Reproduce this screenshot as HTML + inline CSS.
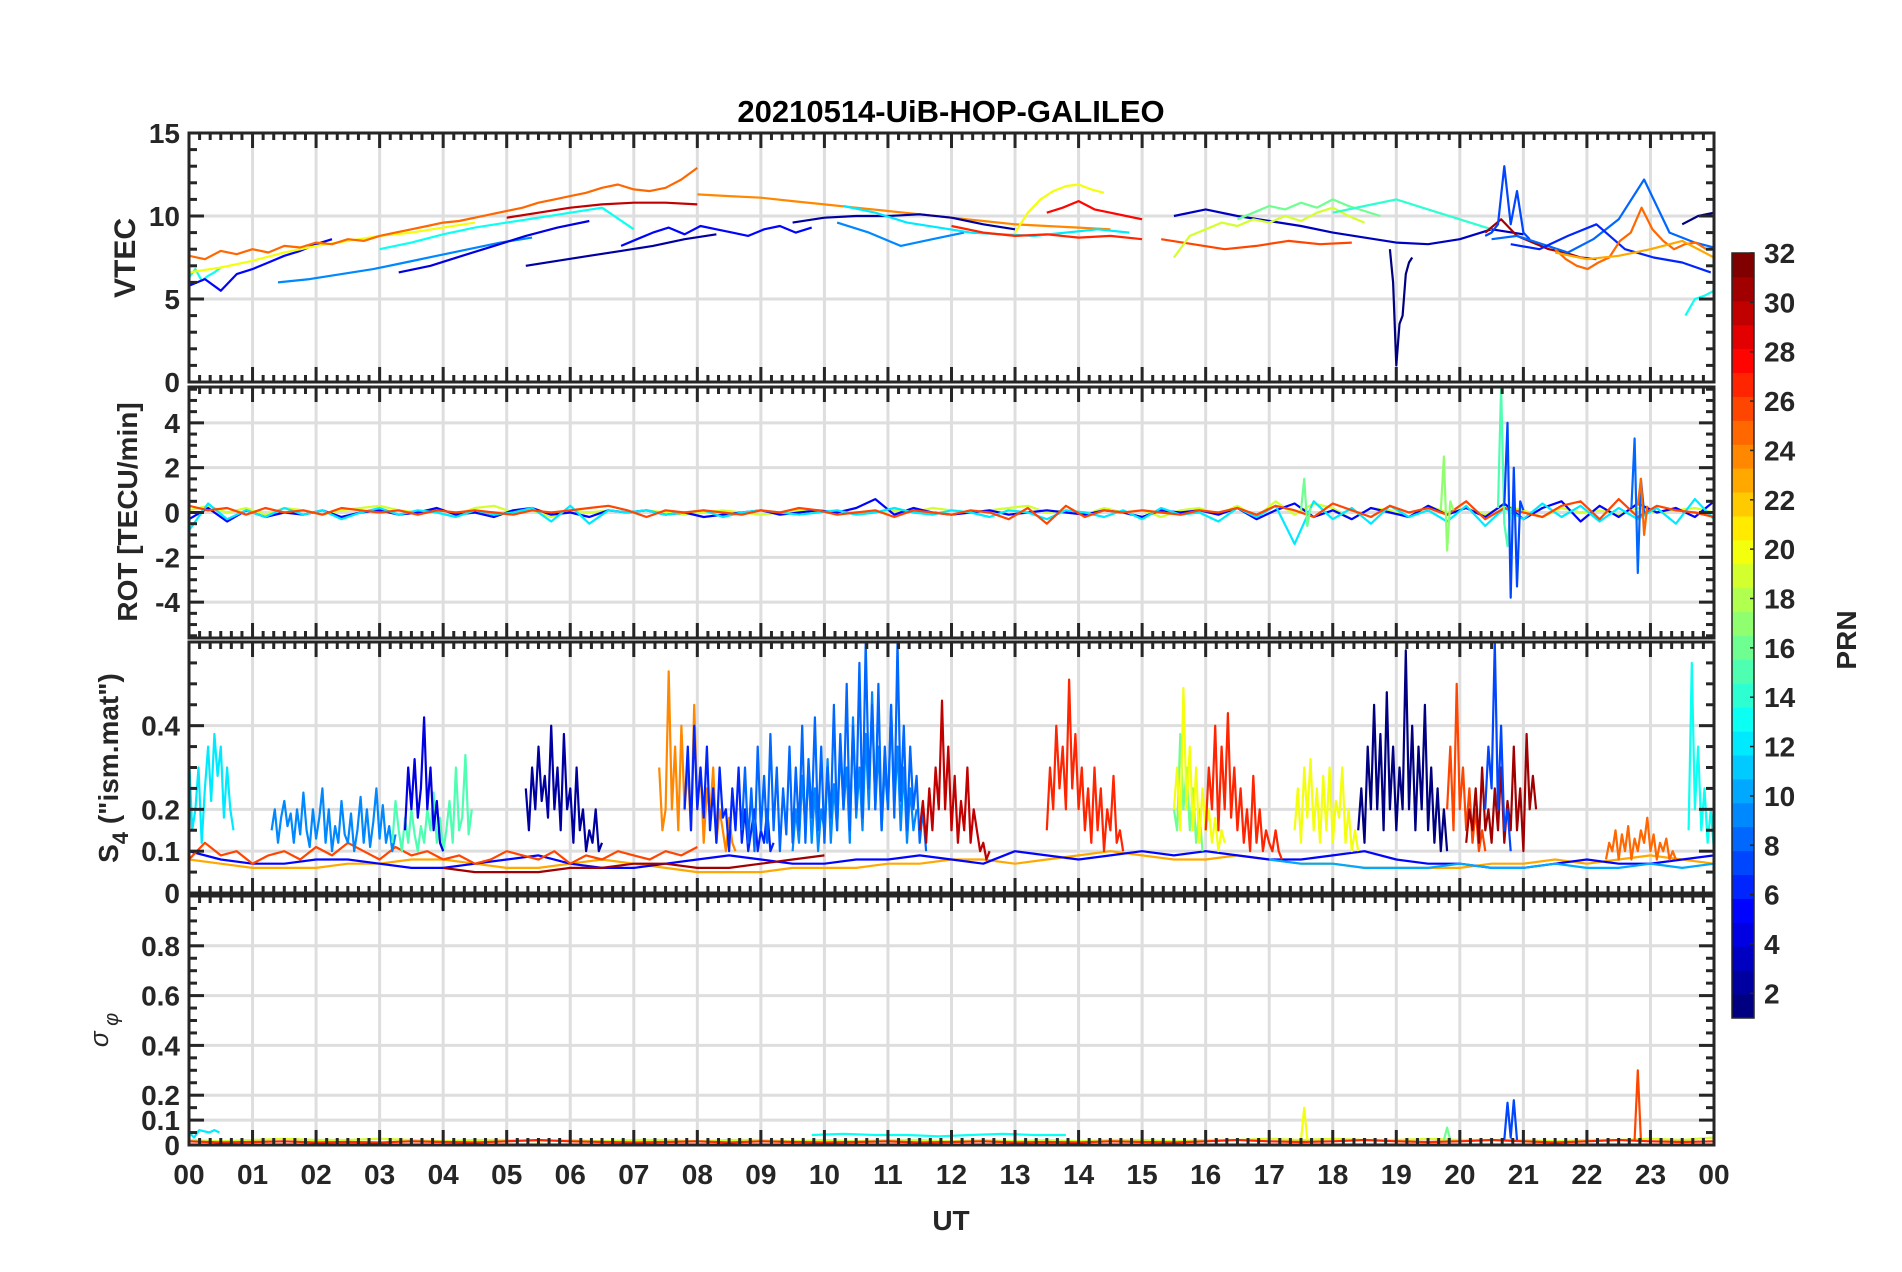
<!DOCTYPE html>
<html><head><meta charset="utf-8"><title>20210514-UiB-HOP-GALILEO</title>
<style>
html,body{margin:0;padding:0;background:#fff;}
svg{display:block;font-family:"Liberation Sans",Arial,sans-serif;}
.tk{font-size:28px;font-weight:bold;fill:#262626;}
</style></head>
<body>
<svg id="fig" width="1902" height="1272" viewBox="0 0 1902 1272" xmlns="http://www.w3.org/2000/svg">
<rect x="0" y="0" width="1902" height="1272" fill="#fff"/>
<text x="951" y="122" text-anchor="middle" font-size="31" font-weight="bold" fill="#000">20210514-UiB-HOP-GALILEO</text>
<text x="951" y="1230" text-anchor="middle" class="tk">UT</text>
<text transform="translate(135,258) rotate(-90)" text-anchor="middle" font-size="30" font-weight="bold" fill="#262626">VTEC</text>
<text transform="translate(137,512) rotate(-90)" text-anchor="middle" font-size="28" font-weight="bold" fill="#262626">ROT [TECU/min]</text>
<text transform="translate(118,768) rotate(-90)" text-anchor="middle" font-size="28" font-weight="bold" fill="#262626">S<tspan dy="10" font-size="22">4</tspan><tspan dy="-10"> ("ism.mat")</tspan></text>
<text transform="translate(108,1030) rotate(-90)" text-anchor="middle" font-size="26" font-style="italic" fill="#262626">σ<tspan dy="10" font-size="20"> φ</tspan></text>
<text transform="translate(1856,640) rotate(-90)" text-anchor="middle" font-size="28" font-weight="bold" fill="#262626">PRN</text>
<g id="layer"></g>
</svg>
<script>
// ---------- DATA ----------
const hourLabels = ["00","01","02","03","04","05","06","07","08","09","10","11","12","13","14","15","16","17","18","19","20","21","22","23","00"];
const vtecTicks = [0,5,10,15];
const rotTicks = [-4,-2,0,2,4];
const s4Ticks = [0,0.1,0.2,0.4];
const sigTicks = [0,0.1,0.2,0.4,0.6,0.8];
const cbTicks = [2,4,6,8,10,12,14,16,18,20,22,24,26,28,30,32];

// VTEC series: [prn, startHour, stepHour, values]
const vP25 = [7.6,7.4,7.9,7.7,8.0,7.8,8.2,8.1,8.4,8.3,8.6,8.5,8.8,9.0,9.2,9.4,9.6,9.7,9.9,10.1,10.3,10.5,10.8,11.0,11.2,11.4,11.7,11.9,11.6,11.5,11.7,12.2,12.9];
const vP24 = [11.3,11.2,11.1,10.9,10.7,10.5,10.3,10.1,9.9,9.7,9.5,9.4,9.3,9.2];
const vP27 = [9.4,9.0,8.8,8.9,8.7,8.8,8.6];
const vP28 = [10.2,10.5,10.9,10.4,10.2,10.0,9.8];
const vP30 = [9.9,10.2,10.5,10.7,10.8,10.8,10.7];
const vP20a = [6.6,6.9,7.3,7.8,8.2,8.5,8.8,9.0,9.3,9.6];
const vP20b = [9.0,10.2,11.0,11.5,11.8,11.9,11.6,11.4];
const vP19 = [7.5,8.8,9.2,9.6,9.4,9.8,9.6,10.0,9.7,10.2,10.5,10.0,9.6];
const vP16 = [9.8,10.2,10.6,10.4,10.8,10.5,11.0,10.6,10.3,10.0];
const vP13a = [6.3,6.8,6.1,6.4,6.6,6.9];
const vP13b = [8.0,8.4,8.9,9.3,9.6,9.9,10.2,10.5,9.2];
const vP12 = [10.6,10.2,9.6,9.3,9.0,8.9,8.8,9.0,9.2,9.0];
const vP14 = [10.2,10.6,11.0,10.4,9.8,9.2];
const vP13c = [4.0,5.0,5.2,5.5];
const vP5a = [5.8,6.2,5.5,6.5,6.8,7.2,7.6,7.9,8.3,8.6];
const vP5b = [8.2,8.6,9.0,9.3,8.9,9.4,9.2,9.0,8.8,9.2,9.4,9.0,9.3];
const vP9a = [6.0,6.2,6.5,6.8,7.2,7.6,8.0,8.4,8.7];
const vP9b = [9.6,9.0,8.2,8.6,9.0];
const vP8 = [8.6,8.8,8.3,7.8,8.6,9.8,12.2,9.0,8.4,8.0];
const vP6 = [8.3,8.0,8.8,9.5,8.0,7.5,7.2,6.6];
const vP2a = [7.0,7.3,7.6,7.9,8.2,8.6,8.9];
const vP2b = [9.6,9.9,10.0,10.0,10.1,9.9,9.5,9.2];
const vP3 = [10.0,10.4,10.0,9.7,9.4,9.0,8.7,8.4,8.3,8.6,9.2,8.9];
const vP1a = [8.0,6.0,1.0,3.5,4.0,6.5,7.2,7.5];
const vP1b = [9.5,10.0,10.2];
const vP4 = [6.6,7.0,7.6,8.2,8.8,9.3,9.7];
const vP25b = [8.0,7.4,7.0,6.8,7.2,7.5,8.5,9.0,10.5,9.2,8.5,8.0,8.3,8.4,8.0];
const vP23 = [7.8,7.4,7.6,8.0,8.5,7.5];
const vP31 = [9.0,9.8,8.8,8.4,8.0,7.8,7.5,7.4];
const vP26 = [8.6,8.3,8.0,8.2,8.5,8.3,8.4];
const vP7 = [8.8,9.0,9.5,13.0,9.5,11.5,9.0,8.6];
const vtecSeries = [
 [13,0,0.1,vP13a],[5,0,0.25,vP5a],[20,0,0.5,vP20a],[25,0,0.25,vP25],[9,1.4,0.5,vP9a],
 [4,3.3,0.5,vP4],[13,3,0.5,vP13b],[30,5,0.5,vP30],[2,5.3,0.5,vP2a],[5,6.8,0.25,vP5b],
 [24,8,0.5,vP24],[2,9.5,0.5,vP2b],[9,10.2,0.5,vP9b],[12,10.3,0.5,vP12],[27,12,0.5,vP27],
 [20,13,0.2,vP20b],[28,13.5,0.25,vP28],[26,15.3,0.5,vP26],[3,15.5,0.5,vP3],[19,15.5,0.25,vP19],
 [16,16.5,0.25,vP16],[14,18,0.5,vP14],[1,18.9,0.05,vP1a],[31,20.4,0.25,vP31],[7,20.4,0.1,vP7],
 [8,20.5,0.4,vP8],[6,20.8,0.45,vP6],[25,21.5,0.17,vP25b],[23,21.5,0.5,vP23],[1,23.5,0.25,vP1b],[13,23.55,0.15,vP13c]
];

// ROT series
const rA = [0.3,0.1,0.2,-0.1,0.2,0.0,0.1,-0.1,0.2,0.1,0.0,0.1,-0.1,0.1,0.0,0.1,0.0,-0.1,0.1,0.0,0.1,0.2,0.3,0.1,-0.2,0.1,0.0,0.1,0.0,-0.1,0.1,0.0,0.2,0.1,-0.1,0.0,0.1,-0.2,0.1,0.0,-0.1,0.1,0.0,-0.3,0.2,-0.5,0.3,-0.2,0.1,0.0,0.1,0.0,-0.1,0.1,0.0,0.2,-0.1,0.3,0.1,-0.2,0.4,0.1,-0.2,0.3,0.0,0.2,-0.1,0.5,-0.3,0.2,0.0,-0.2,0.3,0.5,-0.3,0.6,-0.2,0.3,0.1,0.0,-0.2];
const rB = [-0.3,0.2,-0.4,0.1,-0.2,0.0,-0.1,0.1,-0.2,0.0,0.1,-0.1,0.0,0.2,-0.1,0.0,-0.2,0.1,0.2,-0.1,0.0,-0.2,0.1,0.0,0.1,-0.1,0.0,-0.2,-0.1,0.0,0.1,-0.1,0.0,0.1,0.0,0.2,0.6,-0.1,0.2,0.0,-0.1,0.0,0.1,-0.1,0.0,0.1,0.0,-0.1,0.1,0.0,-0.2,0.1,0.0,0.1,-0.1,0.2,-0.3,0.1,0.4,-0.2,0.1,-0.3,0.2,0.0,-0.2,0.3,-0.1,0.2,-0.2,0.4,-0.3,0.2,0.5,-0.4,0.3,-0.2,0.4,0.0,0.2,-0.2,0.5];
const rC = [0.1,0.3,0.0,0.2,-0.1,0.2,0.1,-0.1,0.1,0.2,0.3,0.1,0.0,0.2,-0.1,0.2,0.3,0.0,0.1,-0.2,0.1,0.0,0.1,0.0,0.1,0.0,-0.1,0.0,0.1,0.0,-0.1,0.0,0.1,0.0,0.1,-0.1,0.0,0.1,0.0,0.2,0.1,0.0,0.1,0.2,0.3,0.0,0.1,-0.1,0.2,0.0,0.1,-0.2,0.1,0.2,-0.1,0.3,-0.2,0.5,-0.1,0.4,0.2,-0.3,0.2,0.1,-0.2,0.3,0.0,0.2,-0.1,0.3,0.1,-0.2,0.2,0.0,0.1,-0.1,0.2,0.0,0.1,0.2,0.0];
const rD = [-0.8,0.4,-0.3,0.1,-0.2,0.2,-0.1,0.1,-0.3,0.0,0.2,-0.1,0.1,0.0,-0.2,0.1,-0.1,0.0,0.2,-0.4,0.3,-0.5,0.1,0.0,0.1,-0.1,0.0,0.1,-0.2,0.0,0.1,0.0,-0.1,0.0,0.1,-0.1,0.0,0.2,0.0,-0.1,0.1,0.0,-0.2,0.1,0.0,-0.3,0.1,0.0,-0.2,0.1,-0.3,0.2,-0.1,0.0,-0.4,0.2,-0.2,0.3,-1.4,0.5,-0.3,0.2,-0.5,0.3,-0.2,0.1,-0.4,0.3,-0.6,0.2,-0.3,0.4,-0.2,0.3,-0.4,0.2,-0.3,0.2,-0.5,0.6,-0.3];
const rG1 = [0.1,2.5,-1.7,0.5,0.1];
const rG2 = [0.2,5.6,-0.5,-1.5,0.2];
const rG3 = [0.1,1.5,-0.6,0.2];
const rB7 = [0.3,4.0,-3.8,2.0,-3.3,0.5,0.1];
const rB8 = [0.2,3.3,-2.7,1.5,0.0];
const rO25 = [0.3,1.5,-1.0,0.3];
const rotSeries = [[19,0,0.3,rC],[5,0,0.3,rB],[12,0,0.3,rD],[26,0,0.3,rA],[17,19.7,0.05,rG1],[15,20.6,0.05,rG2],[16,17.5,0.05,rG3],[7,20.7,0.05,rB7],[8,22.7,0.05,rB8],[25,22.8,0.05,rO25]];

// S4 series
const sBaseOr = [0.08,0.07,0.06,0.06,0.06,0.07,0.07,0.08,0.08,0.07,0.06,0.06,0.07,0.08,0.07,0.06,0.05,0.05,0.05,0.06,0.06,0.06,0.07,0.07,0.08,0.08,0.07,0.08,0.09,0.1,0.09,0.08,0.08,0.09,0.08,0.07,0.07,0.06,0.06,0.06,0.06,0.07,0.07,0.08,0.07,0.08,0.09,0.08,0.07];
const sBaseB = [0.1,0.08,0.07,0.07,0.08,0.08,0.07,0.06,0.06,0.07,0.08,0.09,0.07,0.06,0.06,0.07,0.08,0.09,0.08,0.07,0.07,0.08,0.08,0.09,0.08,0.07,0.1,0.09,0.08,0.09,0.1,0.09,0.1,0.09,0.08,0.08,0.09,0.1,0.08,0.07,0.07,0.06,0.06,0.07,0.08,0.07,0.07,0.08,0.09];
const sBaseR = [0.08,0.12,0.09,0.1,0.07,0.09,0.1,0.08,0.11,0.09,0.12,0.1,0.08,0.11,0.09,0.1,0.08,0.09,0.07,0.08,0.1,0.09,0.08,0.1,0.07,0.09,0.08,0.1,0.09,0.08,0.1,0.09,0.11];
const sBaseLb = [0.08,0.07,0.07,0.06,0.06,0.06,0.07,0.06,0.06,0.07,0.06,0.06,0.07,0.06,0.07];
const sBaseDr = [0.06,0.05,0.05,0.05,0.06,0.06,0.07,0.07,0.06,0.06,0.07,0.08,0.09];
const sCy0 = [0.33,0.15,0.2,0.3,0.12,0.25,0.35,0.22,0.38,0.28,0.35,0.18,0.3,0.2,0.15];
const sLb1 = [0.15,0.2,0.12,0.18,0.22,0.16,0.19,0.12,0.2,0.14,0.24,0.15,0.11,0.2,0.13,0.18,0.25,0.12,0.2,0.1,0.16,0.12,0.22,0.14,0.12,0.19,0.1,0.15,0.23,0.12,0.2,0.11,0.17,0.25,0.13,0.21,0.12,0.16,0.1,0.14];
const sGr = [0.12,0.22,0.15,0.1,0.18,0.12,0.2,0.14,0.1,0.16,0.12,0.2,0.15,0.24,0.12,0.18,0.1,0.15,0.22,0.12,0.3,0.15,0.18,0.33,0.14,0.2];
const sB4 = [0.15,0.3,0.2,0.32,0.18,0.25,0.42,0.2,0.3,0.15,0.22,0.12,0.1];
const sDb = [0.25,0.15,0.3,0.2,0.35,0.22,0.28,0.18,0.4,0.2,0.3,0.15,0.38,0.2,0.25,0.12,0.3,0.15,0.2,0.1,0.15,0.12,0.2,0.1,0.12];
const sOr = [0.3,0.15,0.2,0.53,0.2,0.35,0.15,0.4,0.2,0.3,0.15,0.45,0.2,0.3,0.12,0.25,0.18,0.3,0.12,0.2,0.15,0.1,0.18,0.12,0.1];
const sB6 = [0.2,0.35,0.15,0.4,0.2,0.3,0.18,0.35,0.15,0.25,0.12,0.3,0.18,0.2,0.1,0.25,0.15,0.3,0.12,0.2,0.1,0.15,0.2,0.1,0.15,0.12,0.2,0.1,0.12];
const sLb8 = [0.15,0.3,0.12,0.25,0.1,0.35,0.15,0.28,0.12,0.38,0.15,0.3,0.1,0.25,0.14,0.35,0.12,0.3,0.15,0.4,0.12,0.32,0.18,0.42,0.15,0.35,0.12,0.3,0.18,0.45,0.15,0.38,0.2,0.5,0.15,0.4,0.2,0.55,0.18,0.6,0.25,0.45,0.2,0.5,0.15,0.35,0.2,0.45,0.18,0.6,0.22,0.4,0.15,0.35,0.2,0.28,0.12,0.2,0.1];
const sLb9 = [0.1,0.2,0.12,0.28,0.15,0.3,0.12,0.25,0.1,0.2,0.15,0.32,0.12,0.26,0.15,0.35,0.2,0.3,0.12,0.42,0.18,0.3,0.15,0.38,0.2,0.48,0.2,0.35,0.15,0.3,0.2,0.45,0.2,0.35,0.15,0.3,0.12,0.25,0.15,0.2];
const sDr = [0.15,0.22,0.12,0.25,0.15,0.3,0.2,0.46,0.2,0.35,0.15,0.28,0.12,0.22,0.15,0.3,0.12,0.2,0.15,0.1,0.12,0.08,0.1];
const sRed = [0.15,0.3,0.2,0.4,0.25,0.35,0.2,0.51,0.25,0.38,0.2,0.3,0.15,0.25,0.12,0.3,0.15,0.25,0.1,0.2,0.15,0.28,0.12,0.15,0.1];
const sYel = [0.2,0.3,0.15,0.49,0.2,0.35,0.15,0.3,0.12,0.25,0.15,0.2,0.12,0.18,0.1,0.15,0.12];
const sGr16 = [0.2,0.15,0.38,0.2,0.3,0.15,0.25,0.12,0.2,0.1];
const sRed26 = [0.15,0.3,0.2,0.4,0.15,0.35,0.2,0.43,0.18,0.3,0.15,0.25,0.12,0.2,0.1,0.28,0.12,0.2,0.1,0.15,0.12,0.1,0.15,0.1,0.08];
const sYel2 = [0.15,0.25,0.12,0.3,0.18,0.32,0.15,0.25,0.12,0.28,0.15,0.3,0.12,0.22,0.18,0.3,0.12,0.2,0.1,0.15,0.1];
const sDb1 = [0.15,0.25,0.12,0.35,0.2,0.45,0.2,0.38,0.15,0.48,0.2,0.35,0.15,0.3,0.2,0.58,0.2,0.4,0.15,0.35,0.2,0.45,0.15,0.3,0.12,0.25,0.1,0.2,0.1];
const sRed2 = [0.2,0.35,0.15,0.5,0.2,0.3,0.15,0.25,0.12,0.2,0.1,0.15,0.1];
const sB7 = [0.2,0.35,0.25,0.6,0.2,0.4,0.15,0.2,0.1];
const sDr2 = [0.12,0.2,0.15,0.25,0.12,0.3,0.15,0.2,0.12,0.25,0.15,0.3,0.12,0.22,0.15,0.35,0.15,0.25,0.1,0.38,0.2,0.28,0.2];
const sOr2 = [0.08,0.12,0.1,0.15,0.08,0.14,0.1,0.16,0.08,0.13,0.1,0.15,0.12,0.18,0.1,0.14,0.08,0.12,0.1,0.13,0.08,0.1,0.08];
const sCy2 = [0.15,0.55,0.2,0.35,0.15,0.25,0.12,0.2,0.1];
const s4Series = [
 [23,0,0.5,sBaseOr],[5,0,0.5,sBaseB],[26,0,0.25,sBaseR],[10,17,0.5,sBaseLb],[31,4,0.5,sBaseDr],
 [12,0,0.05,sCy0],[9,1.3,0.05,sLb1],[15,3.2,0.05,sGr],[4,3.4,0.05,sB4],[2,5.3,0.05,sDb],
 [24,7.4,0.05,sOr],[6,7.8,0.05,sB6],[9,9.5,0.05,sLb9],[8,8.7,0.05,sLb8],[30,11.5,0.05,sDr],
 [27,13.5,0.05,sRed],[16,15.5,0.05,sGr16],[20,15.5,0.05,sYel],[27,16,0.05,sRed26],[20,17.4,0.05,sYel2],
 [1,18.4,0.05,sDb1],[26,19.8,0.05,sRed2],[31,20.1,0.05,sDr2],[7,20.4,0.05,sB7],[25,22.3,0.05,sOr2],[13,23.6,0.05,sCy2]
];

// sigma-phi series
const gBase = [0.015,0.01,0.012,0.015,0.01,0.012,0.01,0.015,0.012,0.01,0.015,0.02,0.015,0.012,0.01,0.012,0.015,0.01,0.015,0.012,0.01,0.012,0.015,0.01,0.012,0.015,0.01,0.012,0.01,0.015,0.012,0.01,0.015,0.02,0.015,0.012,0.015,0.02,0.015,0.012,0.015,0.02,0.015,0.01,0.015,0.02,0.015,0.012,0.015];
const gBase2 = [0.02,0.015,0.02,0.025,0.02,0.02,0.025,0.02,0.015,0.02,0.02,0.015,0.02,0.015,0.02,0.02,0.015,0.02,0.02,0.015,0.02,0.015,0.02,0.02,0.015,0.02,0.015,0.02,0.015,0.02,0.02,0.015,0.02,0.02,0.025,0.02,0.025,0.02,0.02,0.025,0.02,0.02,0.02,0.015,0.02,0.02,0.025,0.02,0.03];
const gCy = [0.05,0.03,0.06,0.055,0.05,0.06,0.05];
const gCy2 = [0.04,0.045,0.04,0.04,0.035,0.04,0.045,0.04,0.04];
const gY = [0.02,0.15,0.02];
const gB7 = [0.02,0.17,0.03,0.18,0.02];
const gR = [0.02,0.3,0.02];
const gG = [0.02,0.07,0.02];
const sigSeries = [[19,0,0.5,gBase2],[27,0,0.5,gBase],[12,0,0.08,gCy],[13,9.8,0.5,gCy2],[20,17.5,0.05,gY],[16,19.75,0.05,gG],[7,20.7,0.05,gB7],[26,22.75,0.05,gR]];

// ---------- RENDER ----------
const NS = "http://www.w3.org/2000/svg";
const X0 = 189, X1 = 1714;
const panels = [
 {name:"vtec", top:133, bot:382, min:0, max:15, ticks:vtecTicks, minor:1, series:vtecSeries},
 {name:"rot", top:387, bot:638, min:-5.6, max:5.6, ticks:rotTicks, minor:0.5, series:rotSeries},
 {name:"s4", top:642, bot:893, min:0, max:0.6, ticks:s4Ticks, minor:0.05, series:s4Series},
 {name:"sigma", top:896, bot:1145, min:0, max:1, ticks:sigTicks, minor:0.05, series:sigSeries}
];
const layer = document.getElementById("layer");
function xs(h){ return X0 + (X1 - X0) * h / 24; }
function jet(prn){
  const t = (prn - 1) / 31;
  const c = v => Math.round(255 * Math.max(0, Math.min(1, v)));
  return "rgb(" + c(1.5 - Math.abs(4*t - 3)) + "," + c(1.5 - Math.abs(4*t - 2)) + "," + c(1.5 - Math.abs(4*t - 1)) + ")";
}
function mk(tag, attrs, parent){
  const e = document.createElementNS(NS, tag);
  for (const k in attrs) e.setAttribute(k, attrs[k]);
  (parent || layer).appendChild(e);
  return e;
}
const defs = mk("defs", {});
panels.forEach((p, pi) => {
  const ys = v => p.bot - (p.bot - p.top) * (v - p.min) / (p.max - p.min);
  const g = mk("g", {});
  
  
  const cp = mk("clipPath", {id: "clip" + pi}, defs);
  mk("rect", {x: X0, y: p.top, width: X1 - X0, height: p.bot - p.top}, cp);
  for (let h = 1; h < 24; h++) {
    const l = mk("line", {x1: xs(h), x2: xs(h), y1: p.top, y2: p.bot, stroke: "#dedede", "stroke-width": 3}, g);
    
    
  }
  p.ticks.forEach(v => {
    const l = mk("line", {x1: X0, x2: X1, y1: ys(v), y2: ys(v), stroke: "#dedede", "stroke-width": 3}, g);
    
    
  });
  const sg = mk("g", {"clip-path": "url(#clip" + pi + ")"}, g);
  p.series.forEach(s => {
    const [prn, t0, dt, vals] = s;
    const pts = vals.map((v, i) => xs(t0 + i * dt).toFixed(1) + "," + ys(v).toFixed(1)).join(" ");
    const pl = mk("polyline", {points: pts, fill: "none", stroke: jet(prn), "stroke-width": 2.2, "stroke-linejoin": "round"}, sg);
    
    
  });
  for (let m = 0; m <= 24 * 6; m++) {
    const x = xs(m / 6), major = m % 6 === 0, L = major ? 15 : 7;
    mk("line", {x1: x, x2: x, y1: p.top, y2: p.top + L, stroke: "#262626", "stroke-width": 3}, g);
    mk("line", {x1: x, x2: x, y1: p.bot, y2: p.bot - L, stroke: "#262626", "stroke-width": 3}, g);
  }
  const first = Math.ceil(p.min / p.minor - 1e-9);
  for (let k = first; k * p.minor <= p.max + 1e-9; k++) {
    const v = k * p.minor, y = ys(v);
    const major = p.ticks.some(t => Math.abs(t - v) < 1e-6), L = major ? 15 : 8;
    mk("line", {x1: X0, x2: X0 + L, y1: y, y2: y, stroke: "#262626", "stroke-width": 3}, g);
    mk("line", {x1: X1, x2: X1 - L, y1: y, y2: y, stroke: "#262626", "stroke-width": 3}, g);
  }
  p.ticks.forEach(v => {
    const t = mk("text", {x: 180, y: ys(v) + 10, "text-anchor": "end", class: "tk"}, g);
    t.textContent = String(v);
    
    
  });
  const box = mk("rect", {x: X0, y: p.top, width: X1 - X0, height: p.bot - p.top, fill: "none", stroke: "#262626", "stroke-width": 3}, g);
  
  
});
hourLabels.forEach((lab, i) => {
  const t = mk("text", {x: xs(i), y: 1184, "text-anchor": "middle", class: "tk"});
  t.textContent = lab;
  
  
});
const CB = {x: 1732, w: 22, top: 253, bot: 1018, min: 1, max: 32};
const cbs = v => CB.bot - (CB.bot - CB.top) * (v - CB.min) / (CB.max - CB.min);
const cbg = mk("g", {});


const bh = (CB.bot - CB.top) / 32;
for (let k = 1; k <= 32; k++) {
  const r = mk("rect", {x: CB.x, y: CB.bot - k * bh, width: CB.w, height: bh + 0.5, fill: jet(k)}, cbg);
  
  
}
mk("rect", {x: CB.x, y: CB.top, width: CB.w, height: CB.bot - CB.top, fill: "none", stroke: "#262626", "stroke-width": 1.5}, cbg);
cbTicks.forEach(v => {
  mk("line", {x1: CB.x + CB.w, x2: CB.x + CB.w - 4, y1: cbs(v), y2: cbs(v), stroke: "#262626", "stroke-width": 1.5}, cbg);
  const t = mk("text", {x: 1764, y: cbs(v) + 10, class: "tk"}, cbg);
  t.textContent = String(v);
  
  
});
</script>
</body></html>
